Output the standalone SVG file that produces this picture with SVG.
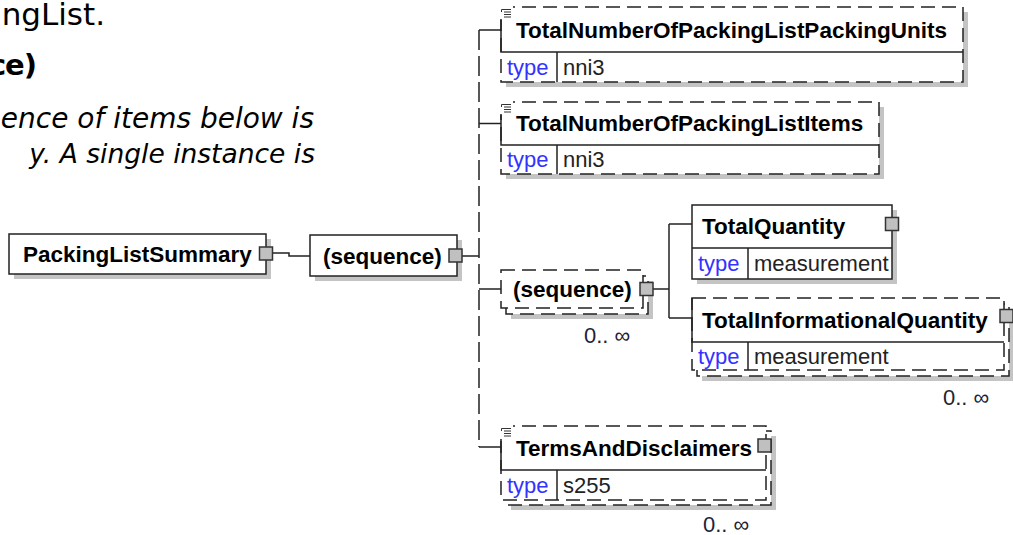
<svg xmlns="http://www.w3.org/2000/svg" width="1013" height="535" viewBox="0 0 1013 535">
<style>
.box{fill:#fff;stroke:#222;stroke-width:1.5}
.opt{stroke-dasharray:14 7}
.sh{fill:#c4c4c4}
.sq{fill:#c0c0c0;stroke:#333;stroke-width:1.5}
.ln{stroke:#222;stroke-width:1.5;fill:none}
.dl{stroke:#222;stroke-width:1.5;fill:none;stroke-dasharray:20 6}
.cv{fill:#fff}
.ic{stroke:#333;stroke-width:1;fill:none}
.name{font-family:"Liberation Sans",Arial,sans-serif;font-weight:bold;font-size:22.5px;fill:#000}
.type{font-family:"Liberation Sans",Arial,sans-serif;font-size:22px;fill:#3333ff}
.val{font-family:"Liberation Sans",Arial,sans-serif;font-size:22px;fill:#222}
.occ{font-family:"Liberation Sans",Arial,sans-serif;font-size:22px;fill:#222233}
.doc{font-family:"DejaVu Sans",Verdana,sans-serif;fill:#000}
</style>
<rect width="1013" height="535" fill="#fff"/>

<g id="doc-text">
<text class="doc" x="105" y="25" font-size="31" text-anchor="end">ngList.</text>
<text class="doc" x="36" y="75" font-size="29" font-weight="bold" letter-spacing="-1" text-anchor="end">ce)</text>
<text class="doc" x="314" y="128" font-size="28" font-style="italic" text-anchor="end">ence of items below is</text>
<text class="doc" x="315" y="163" font-size="26.5" font-style="italic" text-anchor="end">y. A single instance is</text>
</g>

<g id="connectors">
<path class="ln" d="M272,253 H289 V256 H310"/>
<path class="ln" d="M462,256 H479"/>
<path class="dl" d="M479,30 V447"/>
<path class="ln" d="M479,30 H501"/>
<path class="ln" d="M479,123.5 H501"/>
<path class="ln" d="M479,289 H501"/>
<path class="ln" d="M479,447 H501"/>
<path class="ln" d="M653,289 H669"/>
<path class="ln" d="M669,224 V318"/>
<path class="ln" d="M669,224 H692"/>
<path class="ln" d="M669,318 H692"/>
</g>

<g id="PackingListSummary">
<rect class="sh" x="14" y="239" width="257" height="40"/>
<rect class="box" x="9" y="234" width="257" height="40"/>
<text class="name" x="23" y="262">PackingListSummary</text>
<rect class="sq" x="259.5" y="247" width="13" height="13"/>
</g>

<g id="sequence1">
<rect class="sh" x="315" y="240" width="147" height="41"/>
<rect class="box" x="310" y="235" width="147" height="41"/>
<text class="name" x="323" y="263.5">(sequence)</text>
<rect class="sq" x="449" y="249" width="13" height="13"/>
</g>

<g id="TotalNumberOfPackingListPackingUnits">
<rect class="sh" x="506" y="12" width="462" height="75"/>
<rect class="box opt" x="501" y="7" width="462" height="75"/>
<rect class="cv" x="499" y="5" width="14" height="14"/>
<path class="ic" d="M501.5,9.5 H511 M504,12 H511 M504,14.5 H511 M504,17 H511 M501.5,9.5 V12"/>
<path class="ln" d="M501,20 V52 H963 M557,52 V82"/>
<text class="name" x="516" y="37.5">TotalNumberOfPackingListPackingUnits</text>
<text class="type" x="507" y="75">type</text>
<text class="val" x="563" y="75">nni3</text>
</g>

<g id="TotalNumberOfPackingListItems">
<rect class="sh" x="506" y="107" width="378" height="72"/>
<rect class="box opt" x="501" y="102" width="378" height="72"/>
<rect class="cv" x="499" y="100" width="14" height="14"/>
<path class="ic" d="M501.5,104.5 H511 M504,107 H511 M504,109.5 H511 M504,112 H511 M501.5,104.5 V107"/>
<path class="ln" d="M501,115 V145 H879 M557,145 V174"/>
<text class="name" x="516" y="131">TotalNumberOfPackingListItems</text>
<text class="type" x="507" y="167">type</text>
<text class="val" x="563" y="167">nni3</text>
</g>

<g id="sequence2">
<rect class="sh" x="511" y="281" width="142" height="38"/>
<rect class="box opt" x="506" y="276" width="142" height="38"/>
<rect class="box opt" x="501" y="270" width="142" height="38"/>
<text class="name" x="513" y="297">(sequence)</text>
<rect class="sq" x="640" y="282.5" width="13" height="13"/>
<text class="occ" x="584" y="343">0.. ∞</text>
</g>

<g id="TotalQuantity">
<rect class="sh" x="697" y="210" width="200" height="74"/>
<rect class="box" x="692" y="205" width="200" height="74"/>
<path class="ln" d="M692,248 H892 M748,248 V279"/>
<text class="name" x="702" y="234">TotalQuantity</text>
<rect class="sq" x="885.5" y="217.5" width="13" height="13"/>
<text class="type" x="698" y="271">type</text>
<text class="val" x="754" y="271">measurement</text>
</g>

<g id="TotalInformationalQuantity">
<rect class="sh" x="702" y="309" width="312" height="72"/>
<rect class="box opt" x="697" y="304" width="312" height="72"/>
<rect class="box opt" x="692" y="298" width="312" height="72"/>
<path class="ln" d="M692,298 V342 H1004 M748,342 V370"/>
<text class="name" x="702" y="328">TotalInformationalQuantity</text>
<rect class="sq" x="1000" y="309.5" width="13" height="13"/>
<text class="type" x="698" y="364">type</text>
<text class="val" x="754" y="364">measurement</text>
<text class="occ" x="943" y="405">0.. ∞</text>
</g>

<g id="TermsAndDisclaimers">
<rect class="sh" x="511" y="436" width="265" height="74"/>
<rect class="box opt" x="506" y="431" width="265" height="74"/>
<rect class="box opt" x="501" y="426" width="265" height="74"/>
<rect class="cv" x="499" y="424" width="14" height="14"/>
<path class="ic" d="M501.5,428.5 H511 M504,431 H511 M504,433.5 H511 M504,436 H511 M501.5,428.5 V431"/>
<path class="ln" d="M501,441 V470 H766 M557,470 V500"/>
<text class="name" x="516" y="456">TermsAndDisclaimers</text>
<rect class="sq" x="758" y="439" width="13" height="13"/>
<text class="type" x="507" y="493">type</text>
<text class="val" x="563" y="493">s255</text>
<text class="occ" x="703" y="532">0.. ∞</text>
</g>
</svg>
